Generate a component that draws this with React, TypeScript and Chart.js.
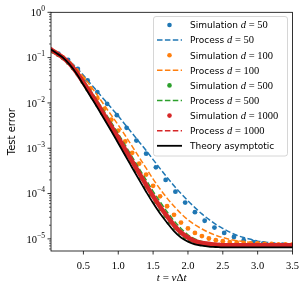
import React, { useEffect, useRef } from 'react';
import { Chart, registerables } from 'chart.js';
Chart.register(...registerables);

// ---- data ----
const tGrid = [0.035, 0.1, 0.2, 0.3, 0.4, 0.5, 0.6, 0.7, 0.8, 0.9, 1.0, 1.1, 1.2, 1.3, 1.4, 1.5, 1.6, 1.7, 1.8, 1.9, 2.0, 2.1, 2.2, 2.3, 2.4, 2.5, 2.6, 2.7, 2.8, 2.9, 3.0, 3.1, 3.2, 3.3, 3.4, 3.5];

const theoryAsymptotic = [0.151, 0.129, 0.102, 0.0708, 0.0447, 0.0251, 0.0141, 7.94e-3, 4.37e-3, 2.40e-3, 1.29e-3, 6.92e-4, 3.72e-4, 2.00e-4, 1.10e-4, 6.17e-5, 3.63e-5, 2.29e-5, 1.48e-5, 1.07e-5, 8.71e-6, 7.59e-6, 7.08e-6, 6.76e-6, 6.61e-6, 6.46e-6, 6.46e-6, 6.46e-6, 6.46e-6, 6.46e-6, 6.46e-6, 6.46e-6, 6.46e-6, 6.46e-6, 6.46e-6, 6.46e-6];

const process50 = [0.151, 0.132, 0.107, 0.0832, 0.0603, 0.0407, 0.0269, 0.0178, 0.0117, 7.76e-3, 5.13e-3, 3.31e-3, 2.14e-3, 1.38e-3, 8.91e-4, 5.62e-4, 3.55e-4, 2.29e-4, 1.48e-4, 1.00e-4, 6.92e-5, 4.90e-5, 3.55e-5, 2.69e-5, 2.09e-5, 1.70e-5, 1.41e-5, 1.20e-5, 1.07e-5, 9.77e-6, 8.91e-6, 8.51e-6, 8.13e-6, 7.76e-6, 7.59e-6, 7.41e-6];

const process100 = [0.151, 0.132, 0.107, 0.0813, 0.0575, 0.0380, 0.0240, 0.0148, 8.91e-3, 5.37e-3, 3.24e-3, 1.91e-3, 1.10e-3, 6.31e-4, 3.63e-4, 2.09e-4, 1.26e-4, 7.94e-5, 5.25e-5, 3.63e-5, 2.63e-5, 2.04e-5, 1.66e-5, 1.38e-5, 1.20e-5, 1.07e-5, 9.77e-6, 9.12e-6, 8.71e-6, 8.32e-6, 8.13e-6, 7.94e-6, 7.76e-6, 7.76e-6, 7.59e-6, 7.59e-6];

const process500 = [0.151, 0.129, 0.105, 0.0759, 0.0513, 0.0316, 0.0191, 0.0112, 6.46e-3, 3.72e-3, 2.09e-3, 1.17e-3, 6.46e-4, 3.55e-4, 2.00e-4, 1.12e-4, 6.61e-5, 3.98e-5, 2.51e-5, 1.70e-5, 1.23e-5, 1.00e-5, 8.71e-6, 8.13e-6, 7.76e-6, 7.59e-6, 7.41e-6, 7.41e-6, 7.41e-6, 7.41e-6, 7.41e-6, 7.41e-6, 7.41e-6, 7.41e-6, 7.41e-6, 7.41e-6];

const process1000 = [0.151, 0.129, 0.102, 0.0741, 0.0490, 0.0288, 0.0170, 9.77e-3, 5.62e-3, 3.16e-3, 1.78e-3, 9.77e-4, 5.37e-4, 2.95e-4, 1.62e-4, 9.12e-5, 5.37e-5, 3.31e-5, 2.09e-5, 1.45e-5, 1.10e-5, 9.12e-6, 8.32e-6, 7.76e-6, 7.59e-6, 7.41e-6, 7.24e-6, 7.24e-6, 7.24e-6, 7.24e-6, 7.24e-6, 7.24e-6, 7.24e-6, 7.24e-6, 7.24e-6, 7.24e-6];

const tSim50 = [0.14, 0.28, 0.42, 0.56, 0.70, 0.84, 0.98, 1.12, 1.26, 1.40, 1.54, 1.68, 1.82, 1.96, 2.10, 2.24, 2.38, 2.52, 2.66, 2.80, 2.94, 3.08, 3.22, 3.36, 3.50];
const sim50 = [0.123, 0.0891, 0.0562, 0.0316, 0.0174, 9.55e-3, 5.37e-3, 2.82e-3, 1.48e-3, 7.59e-4, 3.80e-4, 2.00e-4, 1.10e-4, 6.31e-5, 3.89e-5, 2.51e-5, 1.78e-5, 1.35e-5, 1.10e-5, 9.33e-6, 8.51e-6, 7.94e-6, 7.59e-6, 7.41e-6, 7.24e-6];

const tSim100 = [0.1, 0.2, 0.3, 0.4, 0.5, 0.6, 0.7, 0.8, 0.9, 1.0, 1.1, 1.2, 1.3, 1.4, 1.5, 1.6, 1.7, 1.8, 1.9, 2.0, 2.1, 2.2, 2.3, 2.4, 2.5, 2.6, 2.7, 2.8, 2.9, 3.0, 3.1, 3.2, 3.3, 3.4, 3.5];
const sim100 = [0.129, 0.102, 0.0759, 0.0525, 0.0339, 0.0209, 0.0126, 7.41e-3, 4.27e-3, 2.45e-3, 1.41e-3, 7.94e-4, 4.57e-4, 2.63e-4, 1.48e-4, 8.71e-5, 5.25e-5, 3.39e-5, 2.29e-5, 1.70e-5, 1.35e-5, 1.15e-5, 1.02e-5, 9.33e-6, 8.91e-6, 8.51e-6, 8.32e-6, 8.13e-6, 7.94e-6, 7.94e-6, 7.76e-6, 7.76e-6, 7.59e-6, 7.59e-6, 7.59e-6];

const tSim500 = [0.07, 0.14, 0.21, 0.28, 0.35, 0.42, 0.49, 0.56, 0.63, 0.70, 0.77, 0.84, 0.91, 0.98, 1.05, 1.12, 1.19, 1.26, 1.33, 1.40, 1.47, 1.54, 1.61, 1.68, 1.75, 1.82, 1.89, 1.96, 2.03, 2.10, 2.17, 2.24, 2.31, 2.38, 2.45, 2.52, 2.59, 2.66, 2.73, 2.80, 2.87, 2.94, 3.01, 3.08, 3.15, 3.22, 3.29, 3.36, 3.43, 3.50];
const sim500 = [0.135, 0.115, 0.0977, 0.0776, 0.0589, 0.0427, 0.0295, 0.0200, 0.0135, 9.12e-3, 6.03e-3, 4.07e-3, 2.69e-3, 1.78e-3, 1.17e-3, 7.76e-4, 5.13e-4, 3.31e-4, 2.19e-4, 1.45e-4, 9.55e-5, 6.61e-5, 4.57e-5, 3.24e-5, 2.34e-5, 1.74e-5, 1.35e-5, 1.10e-5, 9.55e-6, 8.51e-6, 7.94e-6, 7.59e-6, 7.41e-6, 7.24e-6, 7.24e-6, 7.08e-6, 7.08e-6, 7.08e-6, 7.08e-6, 7.08e-6, 7.08e-6, 7.08e-6, 7.08e-6, 7.08e-6, 7.08e-6, 7.08e-6, 7.08e-6, 7.08e-6, 7.08e-6, 7.08e-6];

const sim1000 = [0.151, 0.129, 0.102, 0.0741, 0.0479, 0.0282, 0.0166, 9.55e-3, 5.37e-3, 3.02e-3, 1.70e-3, 9.33e-4, 5.13e-4, 2.82e-4, 1.55e-4, 8.71e-5, 5.13e-5, 3.16e-5, 2.00e-5, 1.38e-5, 1.07e-5, 8.91e-6, 8.13e-6, 7.76e-6, 7.41e-6, 7.24e-6, 7.24e-6, 7.24e-6, 7.24e-6, 7.24e-6, 7.24e-6, 7.24e-6, 7.24e-6, 7.24e-6, 7.24e-6, 7.24e-6];

const xTickValues = [0.5, 1.0, 1.5, 2.0, 2.5, 3.0, 3.5];
const xTickLabels = ['0.5', '1.0', '1.5', '2.0', '2.5', '3.0', '3.5'];
const yTickExponents = [0, -1, -2, -3, -4, -5];
const yTickSuper = ['0', '\u22121', '\u22122', '\u22123', '\u22124', '\u22125'];
const yMinorMultipliers = [2, 3, 4, 5, 6, 7, 8, 9];
const dimensions = ['50', '100', '500', '1000'];
const colors = ['#1f77b4', '#ff7f0e', '#2ca02c', '#d62728'];

const X_MIN = 0.035;
const X_MAX = 3.5;
const Y_MIN = 5.4e-6;
const Y_MAX = 1;

const SERIF = '"Liberation Serif", "DejaVu Serif", serif';
const SANS = '"DejaVu Sans", sans-serif';

type Part = { text: string; font: string; dy?: number };

function drawRich(ctx: CanvasRenderingContext2D, parts: Part[], x: number, y: number, align: 'left' | 'center' | 'right') {
  let total = 0;
  for (const p of parts) {
    ctx.font = p.font;
    total += ctx.measureText(p.text).width;
  }
  let cx = align === 'center' ? x - total / 2 : align === 'right' ? x - total : x;
  ctx.textAlign = 'left';
  ctx.textBaseline = 'alphabetic';
  for (const p of parts) {
    ctx.font = p.font;
    ctx.fillText(p.text, cx, y + (p.dy || 0));
    cx += ctx.measureText(p.text).width;
  }
}

const mplPlugin = {
  id: 'mplAxes',
  afterDraw(chart: any) {
    const ctx: CanvasRenderingContext2D = chart.ctx;
    const { left, right, top, bottom } = chart.chartArea;
    const xs = chart.scales.x;
    const ys = chart.scales.y;
    ctx.save();
    ctx.fillStyle = '#000';
    ctx.strokeStyle = '#000';

    // x ticks & labels
    ctx.lineWidth = 0.8;
    xTickValues.forEach((v, i) => {
      const px = xs.getPixelForValue(v);
      ctx.beginPath();
      ctx.moveTo(px, bottom);
      ctx.lineTo(px, bottom + 3.5);
      ctx.stroke();
      drawRich(ctx, [{ text: xTickLabels[i], font: `10.5px ${SERIF}` }], px, bottom + 17.5, 'center');
    });

    // y major ticks
    yTickExponents.forEach((e, i) => {
      const py = ys.getPixelForValue(Math.pow(10, e));
      ctx.lineWidth = 0.8;
      ctx.beginPath();
      ctx.moveTo(left - 3.5, py);
      ctx.lineTo(left, py);
      ctx.stroke();
      drawRich(
        ctx,
        [
          { text: '10', font: `10.5px ${SERIF}` },
          { text: yTickSuper[i], font: `7.5px ${SERIF}`, dy: -5 },
        ],
        left - 6,
        py + 3.8,
        'right'
      );
    });
    // y minor ticks
    ctx.lineWidth = 0.6;
    for (let e = -6; e <= 0; e++) {
      yMinorMultipliers.forEach((m) => {
        const v = m * Math.pow(10, e);
        if (v < Y_MIN || v > Y_MAX) return;
        const py = ys.getPixelForValue(v);
        ctx.beginPath();
        ctx.moveTo(left - 2, py);
        ctx.lineTo(left, py);
        ctx.stroke();
      });
    }

    // spines
    ctx.lineWidth = 0.8;
    ctx.strokeRect(left, top, right - left, bottom - top);

    // axis titles
    drawRich(
      ctx,
      [
        { text: 't', font: `italic 11px ${SERIF}` },
        { text: ' = ', font: `11px ${SERIF}` },
        { text: '\u03bd', font: `italic 11px ${SERIF}` },
        { text: '\u0394', font: `11px ${SERIF}` },
        { text: 't', font: `italic 11px ${SERIF}` },
      ],
      (left + right) / 2,
      bottom + 30,
      'center'
    );
    ctx.save();
    ctx.translate(12, (top + bottom) / 2);
    ctx.rotate(-Math.PI / 2);
    ctx.font = `10px ${SANS}`;
    ctx.textAlign = 'center';
    ctx.textBaseline = 'middle';
    ctx.fillText('Test error', 0, 0);
    ctx.restore();

    // legend
    const bx = 153.5, by = 16.5, bw = 134, bh = 139.5, r = 2.5;
    ctx.beginPath();
    ctx.moveTo(bx + r, by);
    ctx.lineTo(bx + bw - r, by);
    ctx.quadraticCurveTo(bx + bw, by, bx + bw, by + r);
    ctx.lineTo(bx + bw, by + bh - r);
    ctx.quadraticCurveTo(bx + bw, by + bh, bx + bw - r, by + bh);
    ctx.lineTo(bx + r, by + bh);
    ctx.quadraticCurveTo(bx, by + bh, bx, by + bh - r);
    ctx.lineTo(bx, by + r);
    ctx.quadraticCurveTo(bx, by, bx + r, by);
    ctx.closePath();
    ctx.fillStyle = 'rgba(255,255,255,0.8)';
    ctx.fill();
    ctx.strokeStyle = '#cccccc';
    ctx.lineWidth = 0.8;
    ctx.stroke();

    const rowStep = 15.1;
    const hx0 = 157, hx1 = 182, textX = 190;
    let row = 0;
    dimensions.forEach((d, i) => {
      for (const kind of ['sim', 'proc']) {
        const cy = 25 + row * rowStep;
        if (kind === 'sim') {
          ctx.fillStyle = colors[i];
          ctx.beginPath();
          ctx.arc((hx0 + hx1) / 2, cy, 2.3, 0, Math.PI * 2);
          ctx.fill();
        } else {
          ctx.strokeStyle = colors[i];
          ctx.lineWidth = 1.5;
          ctx.setLineDash([5.5, 2.4]);
          ctx.beginPath();
          ctx.moveTo(hx0, cy);
          ctx.lineTo(hx1, cy);
          ctx.stroke();
          ctx.setLineDash([]);
        }
        ctx.fillStyle = '#000';
        drawRich(
          ctx,
          [
            { text: kind === 'sim' ? 'Simulation ' : 'Process ', font: `9px ${SANS}` },
            { text: 'd', font: `italic 10.5px ${SERIF}` },
            { text: ' = ' + d, font: `10.5px ${SERIF}` },
          ],
          textX,
          cy + 3.3,
          'left'
        );
        row++;
      }
    });
    const cyT = 25 + row * rowStep;
    ctx.strokeStyle = '#000';
    ctx.lineWidth = 1.8;
    ctx.beginPath();
    ctx.moveTo(hx0, cyT);
    ctx.lineTo(hx1, cyT);
    ctx.stroke();
    ctx.fillStyle = '#000';
    drawRich(ctx, [{ text: 'Theory asymptotic', font: `9px ${SANS}` }], textX, cyT + 3.3, 'left');

    ctx.restore();
  },
};

function pts(xs: number[], ys: number[]) {
  return xs.map((x, i) => ({ x, y: ys[i] }));
}

export default function App() {
  const ref = useRef<HTMLCanvasElement | null>(null);
  useEffect(() => {
    if (!ref.current) return;
    const dotSet = (data: any, color: string, order: number) => ({
      data,
      showLine: false,
      pointRadius: 2.4,
      pointBorderWidth: 0,
      pointBackgroundColor: color,
      borderColor: color,
      backgroundColor: color,
      order,
      clip: 0,
    });
    const lineSet = (data: any, color: string, order: number, width: number, dash: number[]) => ({
      data,
      showLine: true,
      borderColor: color,
      backgroundColor: color,
      borderWidth: width,
      borderDash: dash,
      pointRadius: 0,
      cubicInterpolationMode: 'monotone',
      fill: false,
      order,
      clip: 0,
    });
    const dash = [5.5, 2.4];
    const chart = new Chart(ref.current, {
      type: 'scatter',
      data: {
        datasets: [
          lineSet(pts(tGrid, theoryAsymptotic), '#000000', 0, 1.8, []),
          lineSet(pts(tGrid, process1000), colors[3], 1, 1.5, dash),
          { ...lineSet(pts(tGrid, sim1000), colors[3], 2, 4.6, []), borderCapStyle: 'round' },
          lineSet(pts(tGrid, process500), colors[2], 3, 1.5, dash),
          dotSet(pts(tSim500, sim500), colors[2], 4),
          lineSet(pts(tGrid, process100), colors[1], 5, 1.5, dash),
          dotSet(pts(tSim100, sim100), colors[1], 6),
          lineSet(pts(tGrid, process50), colors[0], 7, 1.5, dash),
          dotSet(pts(tSim50, sim50), colors[0], 8),
        ] as any,
      },
      options: {
        animation: false,
        responsive: false,
        devicePixelRatio: 1,
        layout: { padding: { top: 12.3, right: 15.5, left: 0, bottom: 0 } },
        plugins: { legend: { display: false }, tooltip: { enabled: false } },
        events: [],
        scales: {
          x: {
            type: 'linear',
            min: X_MIN,
            max: X_MAX,
            grid: { display: false },
            border: { display: false },
            ticks: { display: false },
            afterFit: (s: any) => {
              s.height = 40;
            },
          },
          y: {
            type: 'logarithmic',
            min: Y_MIN,
            max: Y_MAX,
            grid: { display: false },
            border: { display: false },
            ticks: { display: false },
            afterFit: (s: any) => {
              s.width = 51;
            },
          },
        },
      } as any,
      plugins: [mplPlugin],
    });
    return () => chart.destroy();
  }, []);
  return (
    <div style={{ position: 'absolute', left: 0, top: 0, width: 308, height: 291, background: '#fff' }}>
      <canvas ref={ref} width={308} height={291} style={{ display: 'block' }} />
    </div>
  );
}
